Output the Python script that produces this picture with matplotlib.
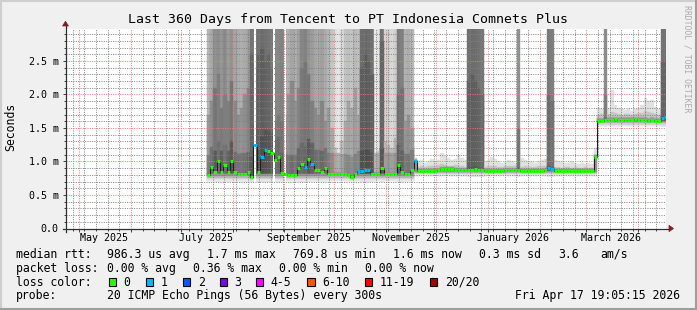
import numpy as np
import pandas as pd
import matplotlib
matplotlib.use('Agg')
import matplotlib.pyplot as plt
import matplotlib.dates as mdates
from matplotlib.patches import Rectangle, Polygon
from matplotlib.lines import Line2D
from matplotlib.ticker import MultipleLocator, FuncFormatter

W, H = 697, 310
MONO = 'DejaVu Sans Mono'

# time range of the graph (last 360 days)
t_start = pd.Timestamp('2025-04-22 19:05:15')
t_end = pd.Timestamp('2026-04-17 19:05:15')
first_bin = pd.Timestamp('2025-07-16 12:00')
bin_days = 2

# median rtt per 2-day bin (ms)
median = [
    0.80, 0.92, 0.85, 1.00, 0.85, 0.95, 0.85, 1.00, 0.84, 0.81, 0.82, 0.82, 0.84, 0.77,
    1.25, 0.85, 1.06, 1.17, 1.16, 1.12, 1.02, 1.06, 0.83,
    0.81, 0.80, 0.80, 0.80, 0.90, 0.97, 0.92, 1.03, 0.97, 0.87, 0.87, 0.85, 0.90, 0.82, 0.82,
    0.82, 0.82, 0.81, 0.81, 0.80, 0.77, 0.81, 0.86,
    0.86, 0.87, 0.87, 0.82,
    0.82, 0.82, 0.90, 0.82, 0.82, 0.82, 0.82, 0.95, 0.85, 0.81, 0.81, 0.87,
    1.00, 0.86, 0.86, 0.86, 0.86, 0.86, 0.86, 0.87, 0.89, 0.89, 0.89, 0.89, 0.88, 0.87, 0.87, 0.87,
    0.88, 0.88, 0.89, 0.88, 0.87,
    0.86, 0.86, 0.86, 0.86, 0.86, 0.86, 0.87, 0.87, 0.87, 0.87,
    0.88,
    0.86, 0.86, 0.86, 0.86, 0.86, 0.86, 0.86, 0.87,
    0.90, 0.89,
    0.86, 0.86, 0.86, 0.86, 0.86, 0.86, 0.86, 0.86, 0.86, 0.86, 0.86, 0.86, 1.07, 1.61, 1.61,
    1.62,
    1.62, 1.62, 1.63, 1.62, 1.62, 1.62, 1.62, 1.62, 1.63, 1.62, 1.62, 1.62, 1.61, 1.62, 1.61, 1.61,
    1.65, 1.66,
]

# bins where some pings were lost (1 of 20)
loss_bins = [14, 16, 17, 29, 31, 45, 46, 47, 48, 62, 102, 103, 136, 137]

# grey level of the outer smoke in each bin
shade = [
    180, 170, 145, 140, 150, 140, 155, 145, 165, 170, 175, 170, 160, 115,
    125, 112, 108, 112, 116, 120, 135, 135, 130,
    180, 175, 165, 175, 160, 135, 130, 145, 155, 165, 170, 160, 170, 180, 195,
    222, 230, 218, 195, 190, 195, 185, 190,
    108, 104, 108, 112,
    235, 228,
    115,
    212, 208, 215, 205,
    122, 128,
    178, 172, 182,
    225, 225, 225, 225, 225, 225, 225, 225, 225, 225, 225, 225, 225, 225, 225, 225,
    112, 108, 110, 114, 118,
    225, 225, 225, 225, 225, 225, 225, 225, 225, 225,
    145,
    225, 225, 225, 225, 225, 225, 225, 225,
    122, 126,
    225, 225, 225, 225, 225, 225, 225, 225, 225, 225, 225, 225, 225, 225, 225,
    140,
    225, 225, 225, 225, 225, 225, 225, 225, 225, 225, 225, 225, 225, 225, 225, 225,
    115, 115,
]

# top of the outer smoke (ms), values above 3 leave the graph
smoke_top = [
    3.5, 3.5, 3.5, 3.5, 3.5, 3.5, 3.5, 3.5, 3.5, 3.5, 3.5, 3.5, 3.5, 3.5,
    3.5, 3.5, 3.5, 3.5, 3.5, 3.5, 3.5, 3.5, 3.5,
    3.5, 3.5, 3.5, 3.5, 3.5, 3.5, 3.5, 3.5, 3.5, 3.5, 3.5, 3.5, 3.5, 3.5, 3.5,
    3.5, 3.5, 3.5, 3.5, 3.5, 3.5, 3.5, 3.5,
    3.5, 3.5, 3.5, 3.5,
    3.5, 3.5, 3.5, 3.5, 3.5, 3.5, 3.5, 3.5, 3.5, 3.5, 3.5, 3.5,
    1.05, 1.00, 1.02, 0.98, 1.00, 1.03, 1.00, 1.02,
    1.12, 1.08, 1.05, 1.02, 1.04, 1.10, 1.05, 1.02,
    3.5, 3.5, 3.5, 3.5, 3.5,
    1.00, 1.02, 1.06, 1.03, 1.00, 0.98, 1.00, 1.02, 1.00, 0.98,
    3.5,
    1.05, 1.02, 1.00, 1.00, 0.98, 1.00, 1.02, 1.04,
    3.5, 3.5,
    1.02, 1.00, 1.00, 0.98, 0.98, 1.00, 0.98, 0.97, 0.98, 0.97, 0.98, 0.97,
    1.20, 1.80, 1.78,
    3.5,
    1.80, 2.07, 1.85, 1.80, 1.78, 1.77, 1.79, 1.76, 1.78, 1.80, 1.84, 1.95, 1.90, 1.92, 1.82, 1.78,
    3.5, 3.5,
]

# top of the denser inner smoke (ms)
mid_top = [
    1.7, 1.9, 2.1, 2.3, 1.8, 2.0, 1.9, 2.2, 1.9, 1.7, 1.8, 2.0, 2.1, 2.6,
    2.4, 2.6, 2.7, 2.5, 2.6, 2.4, 1.6, 1.7, 1.6,
    1.7, 2.0, 2.2, 1.9, 2.1, 2.4, 2.5, 2.3, 1.9, 1.8, 1.7, 1.9, 1.6, 1.8, 1.5,
    1.2, 1.1, 1.3, 1.6, 1.9, 1.8, 2.1, 1.7,
    2.4, 2.6, 2.5, 2.3,
    1.1, 1.15,
    2.8,
    1.3, 1.25, 1.2, 1.35,
    2.0, 2.1,
    1.6, 1.7, 1.5,
    0.94, 0.92, 0.93, 0.92, 0.94, 0.93, 0.94, 0.95, 0.96, 0.95, 0.94, 0.93, 0.95, 0.94, 0.93, 0.92,
    2.2, 2.3, 2.2, 2.1, 2.0,
    0.92, 0.93, 0.94, 0.93, 0.92, 0.92, 0.93, 0.93, 0.94, 0.93,
    1.5,
    0.92, 0.93, 0.92, 0.92, 0.92, 0.93, 0.93, 0.94,
    2.0, 1.9,
    0.92, 0.92, 0.91, 0.92, 0.92, 0.91, 0.92, 0.91, 0.91, 0.92, 0.91, 0.91, 1.10, 1.70, 1.71,
    2.0,
    1.71, 1.74, 1.72, 1.71, 1.70, 1.71, 1.71, 1.70, 1.71, 1.72, 1.73, 1.75, 1.74, 1.73, 1.71, 1.70,
    2.5, 2.5,
]

# fastest pings (smoke floor), fade depth and dense core above the median, per period (ms)
period_start = ['2025-07-16', '2025-11-16', '2026-03-07']
smoke_floor = [0.71, 0.79, 1.53]
fade_depth = [0.10, 0.07, 0.08]
core_above = [0.30, 0.03, 0.04]

# short data gaps in the smoke
gap_start = ['2025-08-13 18:00', '2025-08-25 06:00', '2025-08-31 12:00']
gap_days = [1.2, 1.0, 1.2]

loss_labels = ['0', '1', '2', '3', '4-5', '6-10', '11-19', '20/20']
loss_colors = ['#26ff00', '#00b8ff', '#0059ff', '#7e00ff', '#ff00ff', '#ff5500', '#ff0000', '#a10000']

month_labels = ['May 2025', 'July 2025', 'September 2025', 'November 2025', 'January 2026', 'March 2026']
month_label_dates = ['2025-05-16', '2025-07-16', '2025-09-16', '2025-11-16', '2026-01-16', '2026-03-16']

# ---------------------------------------------------------------
n = len(median)
med = np.array(median)
bins = first_bin + pd.to_timedelta(np.arange(n) * bin_days, unit='D')
x0 = mdates.date2num(bins.to_pydatetime())
pstart = mdates.date2num(pd.to_datetime(period_start).to_pydatetime())
pidx = np.searchsorted(pstart, x0, side='right') - 1
lo = np.minimum(np.array(smoke_floor)[pidx], med - 0.04)
fade = np.minimum(np.array(fade_depth)[pidx], med - lo)
core = np.array(core_above)[pidx]
sh = np.array(shade, dtype=float)
loss = np.zeros(n, dtype=int)
loss[loss_bins] = 1


def grey(v):
    v = np.clip(np.asarray(v, dtype=float), 0, 255) / 255.0
    return [(g, g, g) for g in np.atleast_1d(v)]


def smoke(bottom, top, levels, z):
    c = grey(levels)
    ax.bar(x0, top - bottom, width=bin_days, bottom=bottom, align='edge',
           color=c, edgecolor=c, linewidth=0.3, zorder=z)


fig = plt.figure(figsize=(W / 100, H / 100), dpi=100, facecolor='#f0f0f0')
ax = fig.add_axes([65.5 / W, (H - 228.5) / H, 600.5 / W, 200 / H])
ax.set_facecolor('white')

step = np.where(sh > 140, 28, 14)
core_grey = np.minimum(sh - 2 * step, 150)
smoke(lo, np.array(smoke_top), sh, 1)
smoke(med, np.array(mid_top), sh - step, 1.1)
smoke(med, med + core, sh - 2 * step, 1.15)
smoke(lo + fade, med, core_grey, 1.18)
for k, g in enumerate([232, 212, 185, 150]):
    smoke(lo + fade * k / 4, lo + fade * (k + 1) / 4, np.full(n, g), 1.2)
smoke(med, med + 0.025, core_grey, 1.3)

for g, d in zip(gap_start, gap_days):
    gx = mdates.date2num(pd.Timestamp(g).to_pydatetime())
    ax.axvspan(gx, gx + d, color='white', lw=0, zorder=1.5)

# median line, coloured by loss
xc = x0 + bin_days / 2
ax.plot(xc, med, drawstyle='steps-mid', color='#202020', lw=0.8, zorder=4)
ax.hlines(med, x0, x0 + bin_days, colors=[loss_colors[l] for l in loss], lw=2.2, zorder=5)

ax.set_xlim(mdates.date2num(t_start.to_pydatetime()), mdates.date2num(t_end.to_pydatetime()))
ax.set_ylim(0, 2.985)

ax.xaxis.set_major_locator(mdates.MonthLocator())
ax.xaxis.set_minor_locator(mdates.WeekdayLocator(byweekday=mdates.SU))
ax.yaxis.set_major_locator(MultipleLocator(0.5))
ax.yaxis.set_minor_locator(MultipleLocator(0.1))
ax.yaxis.set_major_formatter(FuncFormatter(lambda v, p: '0.0' if abs(v) < 1e-9 else f'{v:.1f} m'))

ax.set_axisbelow(False)
ax.grid(which='minor', color=(0.5, 0.5, 0.5, 0.3), lw=0.7, ls=(0, (1, 1.4)))
ax.grid(which='major', color=(1, 0.45, 0.45, 0.42), lw=0.7, ls=(0, (1, 1.4)))

for s in ax.spines.values():
    s.set_visible(False)
ax.tick_params(axis='both', which='both', direction='out', color='#404040', width=0.7)
ax.tick_params(axis='both', which='major', length=2.5)
ax.tick_params(axis='both', which='minor', length=1.6)
ax.tick_params(axis='x', labelbottom=False)
ax.tick_params(axis='y', labelsize=7.2, pad=2.5)
for t in ax.get_yticklabels():
    t.set_family(MONO)

# axes with arrows
ax.plot([0, 0], [-0.017, 1.0125], transform=ax.transAxes, color='#303030', lw=0.9,
        clip_on=False, zorder=6)
ax.plot([-0.004, 1.005], [0, 0], transform=ax.transAxes, color='#303030', lw=0.9,
        clip_on=False, zorder=6)
ax.add_patch(Polygon([(-0.005, 1.0125), (0.005, 1.0125), (0, 1.036)], closed=True,
                     transform=ax.transAxes, fc='#7f1f1f', ec='#7f1f1f', lw=0.5, clip_on=False, zorder=7))
ax.add_patch(Polygon([(1.005, -0.016), (1.005, 0.016), (1.0125, 0)], closed=True,
                     transform=ax.transAxes, fc='#7f1f1f', ec='#7f1f1f', lw=0.5, clip_on=False, zorder=7))

for lab, d in zip(month_labels, month_label_dates):
    ax.text(mdates.date2num(pd.Timestamp(d).to_pydatetime()), -0.048, lab,
            transform=ax.get_xaxis_transform(), ha='center', va='center',
            family=MONO, fontsize=7.2)


def ftxt(x, y, s, size=8.3, **kw):
    fig.text(x / W, 1 - y / H, s, family=MONO, fontsize=size, va='center', **kw)


ftxt(348, 19, 'Last 360 Days from Tencent to PT Indonesia Comnets Plus', size=9.5, ha='center')
ftxt(11, 127, 'Seconds', rotation=90, ha='center')
ftxt(687.5, 59, 'RRDTOOL / TOBI OETIKER', size=5.9, rotation=-90, ha='center', color='#aaaaaa')

# legend
ftxt(16, 254.3, 'median rtt:')
for xp, s in [(107.3, '986.3 us avg'), (206.7, '1.7 ms max'), (293.3, '769.8 us min'),
              (393.3, '1.6 ms now'), (479.3, '0.3 ms sd'), (558.3, '3.6'), (600, 'am/s')]:
    ftxt(xp, 254.3, s)
ftxt(16, 268.3, 'packet loss:')
for xp, s in [(107.3, '0.00 % avg'), (193.3, '0.36 % max'), (279.3, '0.00 % min'), (365, '0.00 % now')]:
    ftxt(xp, 268.3, s)
ftxt(16, 282.3, 'loss color:')
box_x = [108.5, 145.7, 183, 219.7, 256, 307.3, 365, 430]
for bx, lab, col in zip(box_x, loss_labels, loss_colors):
    fig.patches.append(Rectangle((bx / W, 1 - 286 / H), 7.2 / W, 7.6 / H, transform=fig.transFigure,
                                 fc=col, ec='black', lw=0.8))
    ftxt(bx + 14.8, 282.3, lab)
ftxt(16, 296, 'probe:')
ftxt(107.3, 296, '20 ICMP Echo Pings (56 Bytes) every 300s')
ftxt(680, 296, 'Fri Apr 17 19:05:15 2026', ha='right')

# 3d frame
fig.add_artist(Line2D([0, 1], [1 - 1 / H, 1 - 1 / H], transform=fig.transFigure, color='#cfcfcf', lw=1.5))
fig.add_artist(Line2D([1 / W, 1 / W], [0, 1], transform=fig.transFigure, color='#cfcfcf', lw=1.5))
fig.add_artist(Line2D([0, 1], [1.5 / H, 1.5 / H], transform=fig.transFigure, color='#9e9e9e', lw=2.2))
fig.add_artist(Line2D([1 - 1.5 / W, 1 - 1.5 / W], [0, 1], transform=fig.transFigure, color='#9e9e9e', lw=2.2))

fig.savefig('out.png', dpi=100, facecolor=fig.get_facecolor())
